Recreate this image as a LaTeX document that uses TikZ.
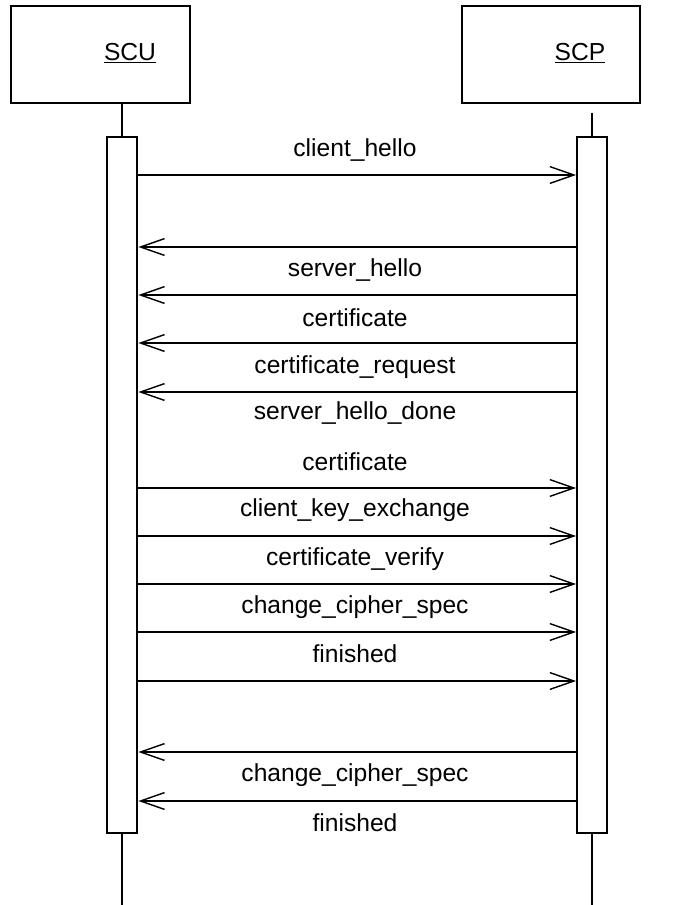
\documentclass[tikz,border=0pt]{standalone}
\usepackage{fontspec}
\setmainfont{Liberation Sans}
\usetikzlibrary{arrows.meta}
\tikzset{
  actor/.style={draw,line width=1.4pt,minimum height=2.425cm,inner sep=0pt},
  activation/.style={draw,line width=1.4pt,fill=white,minimum width=0.77cm,minimum height=17.4cm,inner sep=0pt},
  lifeline/.style={line width=1.4pt},
  msg/.style={line width=1.1pt,-{Straight Barb[length=0.6cm,width=0.42cm,line width=1pt]}},
  msgtext/.style={font=\fontsize{17.5}{20}\selectfont,inner sep=0pt}
}
\begin{document}
\begin{tikzpicture}[x=0.025cm,y=-0.025cm]
  \useasboundingbox [fill=white] (0,0) rectangle (691,905);
  % actors
  \node [actor,minimum width=4.475cm] (scu) at (100.5,54.5) {};
  \node [actor,minimum width=4.45cm] (scp) at (551,54.5) {};
  \node [msgtext] (scutitle) at (130,53) {\underline{SCU}};
  \node [msgtext] (scptitle) at (580,53) {\underline{SCP}};
  % lifelines and activations
  \node [activation] (scuact) at (122,485) {};
  \node [activation,minimum width=0.75cm] (scpact) at (592,485) {};
  \coordinate (scptop) at (592,113);
  \coordinate (scuend) at (122,905);
  \coordinate (scpend) at (592,905);
  \draw [lifeline] (scuact.north |- scu.south) -- (scuact.north);
  \draw [lifeline] (scptop) -- (scpact.north);
  \draw [lifeline] (scuact.south) -- (scuend);
  \draw [lifeline] (scpact.south) -- (scpend);
  % SCU -> SCP
  \draw [msg] (scuact.east |- 0,175) -- (scpact.west |- 0,175);
  \draw [msg] (scuact.east |- 0,488) -- (scpact.west |- 0,488);
  \draw [msg] (scuact.east |- 0,536) -- (scpact.west |- 0,536);
  \draw [msg] (scuact.east |- 0,584) -- (scpact.west |- 0,584);
  \draw [msg] (scuact.east |- 0,632) -- (scpact.west |- 0,632);
  \draw [msg] (scuact.east |- 0,681) -- (scpact.west |- 0,681);
  % SCP -> SCU
  \draw [msg] (scpact.west |- 0,247) -- (scuact.east |- 0,247);
  \draw [msg] (scpact.west |- 0,295) -- (scuact.east |- 0,295);
  \draw [msg] (scpact.west |- 0,343) -- (scuact.east |- 0,343);
  \draw [msg] (scpact.west |- 0,392) -- (scuact.east |- 0,392);
  \draw [msg] (scpact.west |- 0,752) -- (scuact.east |- 0,752);
  \draw [msg] (scpact.west |- 0,801) -- (scuact.east |- 0,801);
  % message labels
  \node [msgtext] (clienthello) at (355,150) {client\_hello};
  \node [msgtext] (serverhello) at (355,270) {server\_hello};
  \node [msgtext] (servercert) at (355,318) {certificate};
  \node [msgtext] (certreq) at (355,367) {certificate\_request};
  \node [msgtext] (hellodone) at (355,413) {server\_hello\_done};
  \node [msgtext] (clientcert) at (355,462) {certificate};
  \node [msgtext] (keyexch) at (355,510) {client\_key\_exchange};
  \node [msgtext] (certverify) at (355,559) {certificate\_verify};
  \node [msgtext] (clientccs) at (355,607) {change\_cipher\_spec};
  \node [msgtext] (clientfin) at (355,654) {finished};
  \node [msgtext] (serverccs) at (355,775) {change\_cipher\_spec};
  \node [msgtext] (serverfin) at (355,823) {finished};
\end{tikzpicture}
\end{document}
